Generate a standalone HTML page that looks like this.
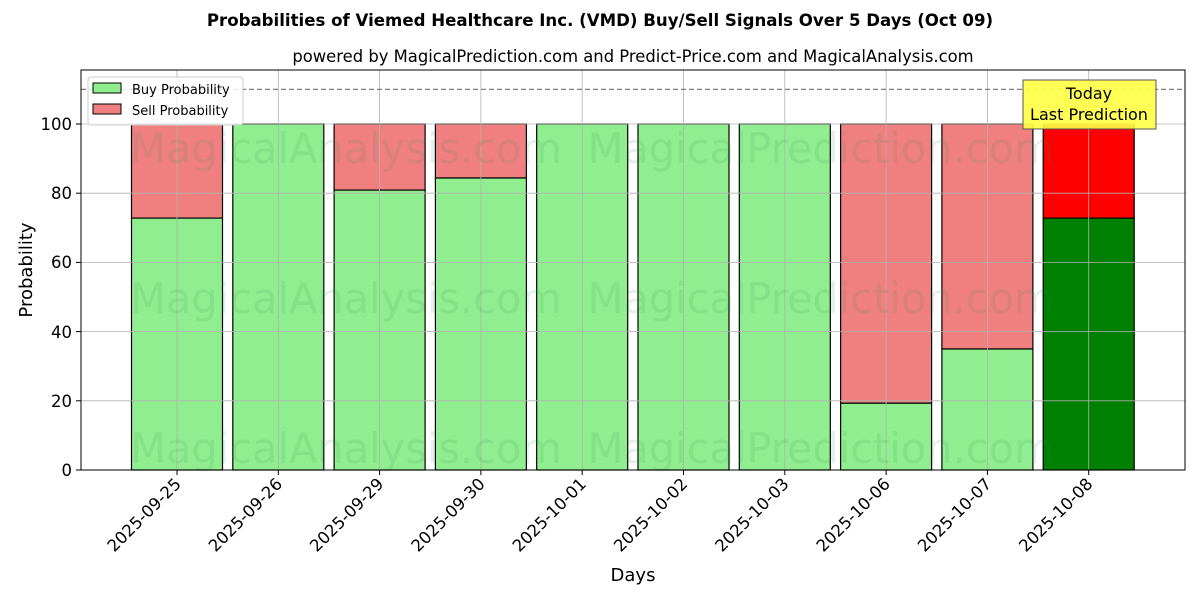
<!DOCTYPE html>
<html><head><meta charset="utf-8"><style>body{margin:0;background:#fff}svg{display:block;font-family:"DejaVu Sans","Liberation Sans",sans-serif}</style></head>
<body>
<svg width="1200" height="600" viewBox="0 0 1200 600" xmlns="http://www.w3.org/2000/svg">
<rect width="1200" height="600" fill="#fff"/>
<text x="600" y="26" text-anchor="middle" font-size="16.6" font-weight="bold">Probabilities of Viemed Healthcare Inc. (VMD) Buy/Sell Signals Over 5 Days (Oct 09)</text>
<text x="633" y="62" text-anchor="middle" font-size="16.4">powered by MagicalPrediction.com and Predict-Price.com and MagicalAnalysis.com</text>
<g id="bars" stroke="#000" stroke-width="1.2">
<rect x="131.5" y="124" width="91" height="94.1" fill="#f08080"/><rect x="131.5" y="218.1" width="91" height="251.9" fill="#90ee90"/>
<rect x="232.8" y="124" width="91" height="346" fill="#90ee90"/>
<rect x="334.1" y="124" width="91" height="66.1" fill="#f08080"/><rect x="334.1" y="190.1" width="91" height="279.9" fill="#90ee90"/>
<rect x="435.4" y="124" width="91" height="54" fill="#f08080"/><rect x="435.4" y="178" width="91" height="292" fill="#90ee90"/>
<rect x="536.7" y="124" width="91" height="346" fill="#90ee90"/>
<rect x="638" y="124" width="91" height="346" fill="#90ee90"/>
<rect x="739.3" y="124" width="91" height="346" fill="#90ee90"/>
<rect x="840.6" y="124" width="91" height="279.2" fill="#f08080"/><rect x="840.6" y="403.2" width="91" height="66.8" fill="#90ee90"/>
<rect x="941.9" y="124" width="91" height="225" fill="#f08080"/><rect x="941.9" y="349" width="91" height="121" fill="#90ee90"/>
<rect x="1043.2" y="124" width="91" height="94.1" fill="#ff0000"/><rect x="1043.2" y="218.1" width="91" height="251.9" fill="#008000"/>
</g>
<g stroke="#b0b0b0" stroke-width="0.8">
<line x1="81" x2="1185" y1="470" y2="470"/><line x1="81" x2="1185" y1="400.8" y2="400.8"/><line x1="81" x2="1185" y1="331.6" y2="331.6"/><line x1="81" x2="1185" y1="262.4" y2="262.4"/><line x1="81" x2="1185" y1="193.2" y2="193.2"/><line x1="81" x2="1185" y1="124" y2="124"/>
<line x1="177" x2="177" y1="70" y2="470"/><line x1="278.3" x2="278.3" y1="70" y2="470"/><line x1="379.6" x2="379.6" y1="70" y2="470"/><line x1="480.9" x2="480.9" y1="70" y2="470"/><line x1="582.2" x2="582.2" y1="70" y2="470"/><line x1="683.5" x2="683.5" y1="70" y2="470"/><line x1="784.8" x2="784.8" y1="70" y2="470"/><line x1="886.1" x2="886.1" y1="70" y2="470"/><line x1="987.4" x2="987.4" y1="70" y2="470"/><line x1="1088.7" x2="1088.7" y1="70" y2="470"/>
</g>
<g font-size="41.5" fill="#2e8b57" fill-opacity="0.13" text-anchor="middle">
<text x="346" y="163">MagicalAnalysis.com</text><text x="821" y="163">MagicalPrediction.com</text>
<text x="346" y="313">MagicalAnalysis.com</text><text x="821" y="313">MagicalPrediction.com</text>
<text x="346" y="463">MagicalAnalysis.com</text><text x="821" y="463">MagicalPrediction.com</text>
</g>
<line x1="81" x2="1185" y1="89.4" y2="89.4" stroke="#808080" stroke-width="1.2" stroke-dasharray="5,3"/>
<rect x="81" y="70" width="1104" height="400" fill="none" stroke="#000" stroke-width="1"/>
<g stroke="#000"><line x1="76" x2="81" y1="470" y2="470"/><line x1="76" x2="81" y1="400.8" y2="400.8"/><line x1="76" x2="81" y1="331.6" y2="331.6"/><line x1="76" x2="81" y1="262.4" y2="262.4"/><line x1="76" x2="81" y1="193.2" y2="193.2"/><line x1="76" x2="81" y1="124" y2="124"/>
<line x1="177" x2="177" y1="470" y2="475"/><line x1="278.3" x2="278.3" y1="470" y2="475"/><line x1="379.6" x2="379.6" y1="470" y2="475"/><line x1="480.9" x2="480.9" y1="470" y2="475"/><line x1="582.2" x2="582.2" y1="470" y2="475"/><line x1="683.5" x2="683.5" y1="470" y2="475"/><line x1="784.8" x2="784.8" y1="470" y2="475"/><line x1="886.1" x2="886.1" y1="470" y2="475"/><line x1="987.4" x2="987.4" y1="470" y2="475"/><line x1="1088.7" x2="1088.7" y1="470" y2="475"/></g>
<g font-size="16.5" text-anchor="end">
<text x="72" y="476">0</text><text x="72" y="407">20</text><text x="72" y="338">40</text><text x="72" y="268">60</text><text x="72" y="199">80</text><text x="72" y="130">100</text>
</g>
<g font-size="16.5" text-anchor="end">
<text transform="translate(182,485) rotate(-45)">2025-09-25</text>
<text transform="translate(283.3,485) rotate(-45)">2025-09-26</text>
<text transform="translate(384.6,485) rotate(-45)">2025-09-29</text>
<text transform="translate(485.9,485) rotate(-45)">2025-09-30</text>
<text transform="translate(587.2,485) rotate(-45)">2025-10-01</text>
<text transform="translate(688.5,485) rotate(-45)">2025-10-02</text>
<text transform="translate(789.8,485) rotate(-45)">2025-10-03</text>
<text transform="translate(891.1,485) rotate(-45)">2025-10-06</text>
<text transform="translate(992.4,485) rotate(-45)">2025-10-07</text>
<text transform="translate(1093.7,485) rotate(-45)">2025-10-08</text>
</g>
<text x="633" y="581" text-anchor="middle" font-size="18">Days</text>
<text transform="translate(32,270) rotate(-90)" text-anchor="middle" font-size="18">Probability</text>
<rect x="1023" y="80" width="133" height="49" fill="#ffff44" stroke="#555" stroke-width="1" fill-opacity="0.9"/>
<text x="1089" y="99" text-anchor="middle" font-size="16">Today</text>
<text x="1089" y="120" text-anchor="middle" font-size="16">Last Prediction</text>
<rect x="88" y="77" width="155" height="48" rx="3" fill="#fff" fill-opacity="0.8" stroke="#ccc"/>
<rect x="93" y="83" width="28" height="10" fill="#90ee90" stroke="#000"/>
<rect x="93" y="104" width="28" height="10" fill="#f08080" stroke="#000"/>
<text x="132" y="94" font-size="13">Buy Probability</text>
<text x="132" y="115" font-size="13">Sell Probability</text>
</svg>
</body></html>
